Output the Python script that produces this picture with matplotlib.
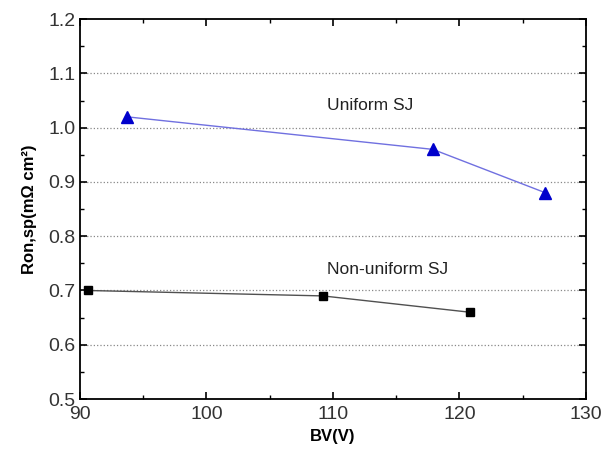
import matplotlib.pyplot as plt
from matplotlib.ticker import MultipleLocator

# data
bv_uniform = [93.7, 117.9, 126.8]
ron_uniform = [1.02, 0.96, 0.88]
bv_nonuniform = [90.6, 109.2, 120.8]
ron_nonuniform = [0.70, 0.69, 0.66]

plt.rcParams['font.family'] = ['Liberation Sans', 'DejaVu Sans']

fig = plt.figure(figsize=(6.04, 4.55), dpi=100)
ax = fig.add_axes([0.1325, 0.123, 0.8375, 0.835])

ax.plot(bv_uniform, ron_uniform, color='#7070e0', lw=1.0, zorder=3)
ax.plot(bv_uniform, ron_uniform, ls='none', marker='^', ms=8, color='#0000cc', zorder=4)
ax.plot(bv_nonuniform, ron_nonuniform, color='#505050', lw=1.0, zorder=3)
ax.plot(bv_nonuniform, ron_nonuniform, ls='none', marker='s', ms=6, color='black', zorder=4)

ax.text(112.9, 1.04, 'Uniform SJ', ha='center', va='center', fontsize=12.5, color='#222222')
ax.text(114.3, 0.738, 'Non-uniform SJ', ha='center', va='center', fontsize=12.5, color='#222222')

ax.set_xlim(90, 130)
ax.set_ylim(0.5, 1.2)
ax.xaxis.set_major_locator(MultipleLocator(10))
ax.xaxis.set_minor_locator(MultipleLocator(5))
ax.yaxis.set_major_locator(MultipleLocator(0.1))
ax.yaxis.set_minor_locator(MultipleLocator(0.05))
ax.yaxis.set_major_formatter(plt.FuncFormatter(lambda v, p: f'{v:.1f}'))

for y in [0.6, 0.7, 0.8, 0.9, 1.0, 1.1]:
    ax.axhline(y, color='#888888', ls=':', lw=0.9, zorder=1)

ax.tick_params(which='both', direction='in', top=True, right=True, labelsize=14, colors='black')
ax.tick_params(which='major', length=5, width=1.2)
ax.tick_params(which='minor', length=3, width=1.0)
ax.tick_params(axis='y', labelcolor='#333333')
ax.tick_params(axis='x', labelcolor='#333333', pad=5)
for s in ax.spines.values():
    s.set_linewidth(1.3)

ax.set_xlabel('BV(V)', fontsize=12, fontweight='bold', labelpad=4)
ax.set_ylabel('Ron,sp(m\u03a9 cm\u00b2)', fontsize=12, fontweight='bold', labelpad=8)

fig.savefig('out.png', dpi=100)
